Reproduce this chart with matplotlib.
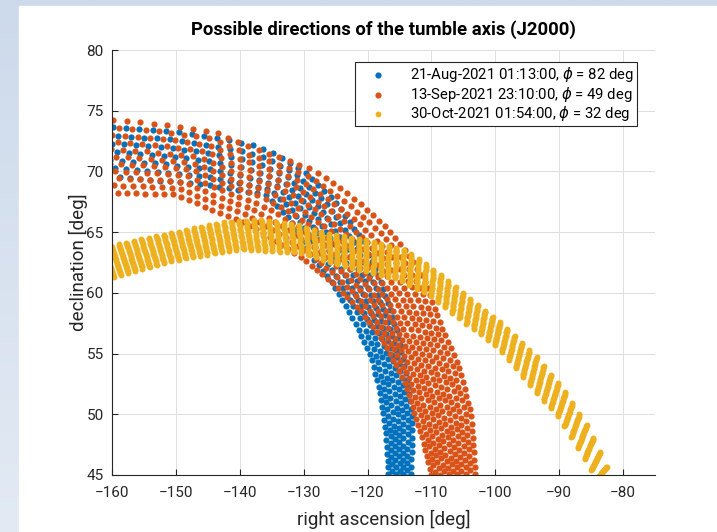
import numpy as np
import matplotlib
matplotlib.use('Agg')
import matplotlib.pyplot as plt
from matplotlib.colors import LinearSegmentedColormap
from matplotlib.patches import Rectangle

plt.rcParams['font.family'] = ['Roboto', 'DejaVu Sans']
plt.rcParams['mathtext.fontset'] = 'dejavusans'

# band edges (right ascension / declination, deg), inner = concave side, outer = convex side
aug_inner_ra = [-162, -158, -145, -136, -132.5, -129.6, -127.5, -125.5, -123.3, -121.6, -119.4, -118.2, -117.1, -116.7]
aug_inner_dec = [69.7, 69.5, 68.9, 68.1, 66.3, 63.6, 62.2, 60.8, 58.8, 57.2, 54.7, 52.2, 48.5, 44.5]
aug_outer_ra = [-162, -150, -142, -138, -135, -130, -125, -121, -118, -115.5, -113.8, -113.0, -113.2]
aug_outer_dec = [73.7, 73.3, 72.6, 72.2, 71.6, 70.0, 67.5, 64.5, 61.0, 57.0, 53.0, 50.0, 44.5]

sep_inner_ra = [-162, -150, -144.2, -140, -135, -130, -125, -121, -117.5, -114.3, -113.2, -111.4, -109.8]
sep_inner_dec = [68.3, 68.1, 66.8, 66.0, 64.5, 62.8, 60.6, 58.5, 56.0, 52.8, 51.0, 48.0, 44.5]
sep_outer_ra = [-162, -152.5, -143.6, -138, -132.2, -128, -124.4, -120.8, -117.1, -114, -110.9, -108.4, -105.7, -103.8, -103.1]
sep_outer_dec = [74.3, 73.9, 73.2, 71.9, 70.9, 70.0, 68.7, 67.2, 65.4, 63.5, 60.8, 57.2, 53.9, 50.1, 44.5]

oct_inner_ra = [-162, -160, -150, -140, -130.7, -121.3, -115, -110, -104.6, -99.5, -94.3, -90.1, -85, -84.4]
oct_inner_dec = [61.0, 61.3, 62.7, 63.6, 63.3, 61.9, 61.1, 59.7, 57.5, 55.5, 52.2, 49.8, 45.5, 44.5]
oct_outer_ra = [-162, -160, -150, -142.7, -137, -131, -126.5, -119.7, -114, -108.8, -103.7, -98.4, -93.2, -89, -85, -81.5]
oct_outer_dec = [63.6, 63.9, 65.0, 65.8, 66.0, 65.6, 64.9, 64.3, 63.5, 61.6, 59.4, 57.2, 54.5, 51.8, 48.5, 44.5]

labels = ['21-Aug-2021 01:13:00, $\\phi$ = 82 deg',
          '13-Sep-2021 23:10:00, $\\phi$ = 49 deg',
          '30-Oct-2021 01:54:00, $\\phi$ = 32 deg']
colors = ['#0072BD', '#D95319', '#EDB120']


def along(ra, dec, u, dec_weight=None):
    ra = np.asarray(ra, float)
    dec = np.asarray(dec, float)
    if dec_weight is None:
        # arc length on the sky
        cd = np.cos(np.radians(0.5 * (dec[1:] + dec[:-1])))
        step = np.hypot(np.diff(ra) * cd, np.diff(dec))
    else:
        step = np.hypot(np.diff(ra), dec_weight * np.diff(dec))
    t = np.concatenate([[0], np.cumsum(step)])
    t /= t[-1]
    return np.interp(u, t, ra), np.interp(u, t, dec)


def band(inner, outer, n_cols, n_rows, shear=0.0, stagger=False, dec_weight=None):
    u = np.linspace(0, 1 + shear, n_cols)
    v = np.linspace(0, 1, n_rows)
    U, V = np.meshgrid(u, v)
    if stagger:
        U = U + (np.arange(n_rows)[:, None] % 2) * 0.5 / (n_cols - 1)
    ra_i, dec_i = along(*inner, U, dec_weight)
    ra_o, dec_o = along(*outer, U - shear, dec_weight)
    ra = (1 - V) * ra_i + V * ra_o
    dec = (1 - V) * dec_i + V * dec_o
    return ra.ravel(), dec.ravel()


fig = plt.figure(figsize=(7.17, 5.32), dpi=100)

# slide background
bg = fig.add_axes([0, 0, 1, 1], zorder=-10)
bg.axis('off')
grad = LinearSegmentedColormap.from_list('bg', ['#cddaeb', '#e3eaf4'])
bg.imshow(np.linspace(0, 1, 256)[:, None], aspect='auto', cmap=grad,
          extent=[0, 1, 0, 1], origin='upper')
bg.add_patch(Rectangle((19 / 717, 0), 1, 1 - 6 / 532, color='white',
                       transform=bg.transAxes))
bg.set_xlim(0, 1)
bg.set_ylim(0, 1)

ax = fig.add_axes([112 / 717, 57 / 532, 543 / 717, 425 / 532])

dot = 20
ra, dec = band((aug_inner_ra, aug_inner_dec), (aug_outer_ra, aug_outer_dec), 64, 7, stagger=True)
ax.scatter(ra, dec, s=dot, color=colors[0], linewidths=0, label=labels[0])
ra, dec = band((sep_inner_ra, sep_inner_dec), (sep_outer_ra, sep_outer_dec), 68, 11, stagger=True)
ax.scatter(ra, dec, s=dot, color=colors[1], linewidths=0, label=labels[1])
ra, dec = band((oct_inner_ra, oct_inner_dec), (oct_outer_ra, oct_outer_dec), 72, 20,
               shear=0.02, dec_weight=0.45)
ax.scatter(ra, dec, s=18, color=colors[2], linewidths=0, label=labels[2])

ax.set_xlim(-160, -75)
ax.set_ylim(45, 80)
ax.set_xticks(np.arange(-160, -79, 10))
ax.set_yticks(np.arange(45, 81, 5))
ax.grid(True, color='#dedede', linewidth=0.7)
ax.set_axisbelow(True)
for side in ['top', 'right']:
    ax.spines[side].set_visible(False)
for side in ['left', 'bottom']:
    ax.spines[side].set_color('#262626')
    ax.spines[side].set_linewidth(0.8)
ax.tick_params(direction='in', length=4, width=0.8, colors='#262626',
               labelsize=11)
ax.tick_params(axis='x', pad=8)
ax.tick_params(axis='y', pad=6)

ax.set_title('Possible directions of the tumble axis (J2000)', fontsize=13.3,
             fontweight='bold', pad=11)
ax.set_xlabel('right ascension [deg]', fontsize=13.5, color='#262626', labelpad=7)
ax.set_ylabel('declination [deg]', fontsize=13.5, color='#262626', labelpad=-1)

leg = ax.legend(loc='upper right', bbox_to_anchor=(0.967, 0.972), borderaxespad=0,
                fontsize=10.7, frameon=True, fancybox=False, framealpha=1,
                edgecolor='#262626', handlelength=2.6, handletextpad=0.9,
                borderpad=0.2, labelspacing=0.05)
leg.get_frame().set_linewidth(0.8)

fig.savefig('out.png', dpi=100)
